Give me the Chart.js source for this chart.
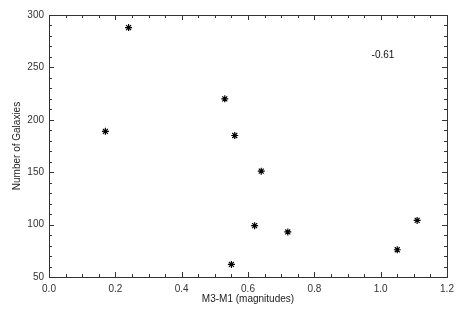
<!DOCTYPE html>
<html>
<head>
<meta charset="utf-8">
<script src="https://cdn.jsdelivr.net/npm/chart.js@4"></script>
<style>
  html, body { margin: 0; padding: 0; background: #fff; }
  #wrap { width: 470px; height: 315px; }
</style>
</head>
<body>
<div id="wrap"><canvas id="chart" width="470" height="315"></canvas></div>
<script>
// data
const colourDiff = [0.17, 0.24, 0.53, 0.56, 0.64, 0.62, 0.72, 0.55, 1.05, 1.11];
const galaxyCounts = [189, 288, 220, 185, 151, 99, 93, 62, 76, 104];
const xTickLabels = ['0.0', '0.2', '0.4', '0.6', '0.8', '1.0', '1.2'];
const yTickLabels = ['50', '100', '150', '200', '250', '300'];
const correlationText = '-0.61';

const axisColor = '#333';
const fontSpec = { family: 'Liberation Sans, Arial, sans-serif', size: 10 };

// draws the box frame with inward major/minor ticks on all four sides
const frameTicks = {
    id: 'frameTicks',
    afterDraw(chart) {
        const ctx = chart.ctx;
        const a = chart.chartArea;
        const xs = chart.scales.x, ys = chart.scales.y;
        ctx.save();
        ctx.strokeStyle = axisColor;
        ctx.lineWidth = 1;
        ctx.strokeRect(a.left + 0.5, a.top + 0.5, a.right - a.left, a.bottom - a.top);
        ctx.beginPath();
        for (let i = 0; i <= 24; i++) {
            const v = i * 0.05;
            const px = Math.round(xs.getPixelForValue(v)) + 0.5;
            const len = i % 4 === 0 ? 5 : 3;
            ctx.moveTo(px, a.bottom); ctx.lineTo(px, a.bottom - len);
            ctx.moveTo(px, a.top); ctx.lineTo(px, a.top + len);
        }
        for (let v = 50; v <= 300; v += 10) {
            const py = Math.round(ys.getPixelForValue(v)) + 0.5;
            const len = v % 50 === 0 ? 5 : 3;
            ctx.moveTo(a.left, py); ctx.lineTo(a.left + len, py);
            ctx.moveTo(a.right, py); ctx.lineTo(a.right - len, py);
        }
        ctx.stroke();

        // correlation coefficient in the upper right
        ctx.fillStyle = '#111';
        ctx.font = '10px ' + fontSpec.family;
        ctx.textAlign = 'center';
        ctx.textBaseline = 'middle';
        ctx.fillText(correlationText, xs.getPixelForValue(1.007), ys.getPixelForValue(262));
        ctx.restore();
    }
};

new Chart(document.getElementById('chart'), {
    type: 'scatter',
    data: {
        datasets: [{
            data: colourDiff.map((x, i) => ({ x: x, y: galaxyCounts[i] })),
            pointStyle: 'star',
            radius: 3.5,
            borderColor: '#000',
            backgroundColor: '#000',
            borderWidth: 1.2
        }]
    },
    options: {
        responsive: false,
        animation: false,
        layout: { padding: { left: 0, right: 23, top: 15, bottom: 0 } },
        plugins: { legend: { display: false }, tooltip: { enabled: false } },
        scales: {
            x: {
                type: 'linear',
                min: 0, max: 1.2,
                afterFit: s => { s.height = 38; },
                grid: { display: false, drawTicks: false },
                border: { display: false },
                ticks: {
                    stepSize: 0.2,
                    padding: 6,
                    color: '#333',
                    font: fontSpec,
                    callback: (v) => xTickLabels[Math.round(v / 0.2)]
                },
                title: { display: true, text: 'M3-M1 (magnitudes)', color: '#222', font: fontSpec, padding: { top: 2, bottom: 10 } }
            },
            y: {
                type: 'linear',
                min: 50, max: 300,
                afterFit: s => { s.width = 49; },
                grid: { display: false, drawTicks: false },
                border: { display: false },
                ticks: {
                    stepSize: 50,
                    padding: 5,
                    color: '#333',
                    font: fontSpec,
                    callback: (v) => yTickLabels[Math.round((v - 50) / 50)]
                },
                title: { display: true, text: 'Number of Galaxies', color: '#222', font: fontSpec, padding: { top: 11, bottom: 0 } }
            }
        }
    },
    plugins: [frameTicks]
});
</script>
</body>
</html>
